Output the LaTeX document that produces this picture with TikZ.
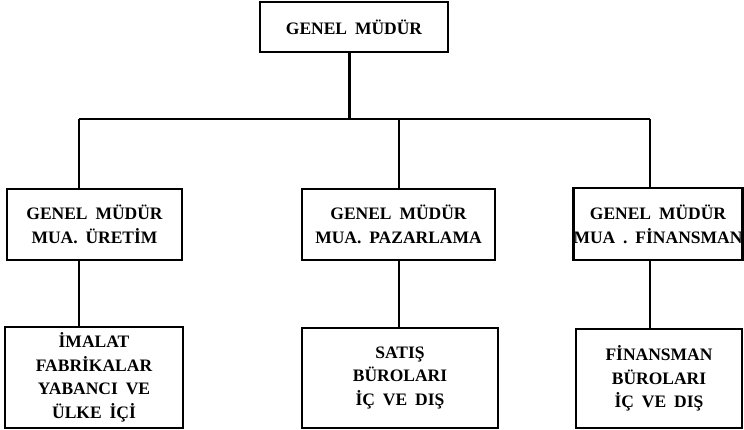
\documentclass[tikz,border=0pt]{standalone}
\usepackage{fontspec}
\setmainfont{Liberation Serif}[WordSpace=1.8]
\begin{document}
\begin{tikzpicture}[x=1pt,y=-1pt,
  orgbox/.style={draw,line width=2.4pt,rectangle,inner sep=0pt,align=center,
    font=\fontsize{17.5}{24}\selectfont\bfseries},
  lowbox/.style={orgbox,font=\fontsize{17.5}{23.5}\selectfont\bfseries},
  link/.style={line width=2.4pt}]
\useasboundingbox (0,0) rectangle (744,430);
\node[orgbox,minimum width=188pt,minimum height=50pt] (top) at (354,27) {GENEL MÜDÜR};
\node[orgbox,minimum width=175pt,minimum height=71pt] (m1) at (94.5,224.5) {GENEL MÜDÜR\\MUA. ÜRETİM};
\node[orgbox,minimum width=193pt,minimum height=71pt] (m2) at (398.5,224.5) {GENEL MÜDÜR\\MUA. PAZARLAMA};
\node[orgbox,minimum width=168pt,minimum height=72pt] (m3) at (658,224) {GENEL MÜDÜR\\MUA . FİNANSMAN};
\node[lowbox,minimum width=178pt,minimum height=101pt] (b1) at (94,377.5) {İMALAT\\FABRİKALAR\\YABANCI VE\\ÜLKE İÇİ};
\node[lowbox,minimum width=196pt,minimum height=100pt] (b2) at (400,378) {SATIŞ\\BÜROLARI\\İÇ VE DIŞ};
\node[lowbox,minimum width=166pt,minimum height=99pt] (b3) at (659,378.5) {FİNANSMAN\\BÜROLARI\\İÇ VE DIŞ};
\coordinate (busT) at (349.5,119);
\coordinate (busL) at (79,119);
\coordinate (busM) at (399,119);
\coordinate (busR) at (650,119);
\draw[link] (top.south -| busT) -- (busT);
\draw[link] (busL) -- (busR);
\draw[link] (busL) -- (m1.north -| busL);
\draw[link] (busM) -- (m2.north -| busM);
\draw[link] (busR) -- (m3.north -| busR);
\draw[link] (m1.south -| busL) -- (b1.north -| busL);
\draw[link] (m2.south -| busM) -- (b2.north -| busM);
\draw[link] (m3.south -| busR) -- (b3.north -| busR);
\end{tikzpicture}
\end{document}
